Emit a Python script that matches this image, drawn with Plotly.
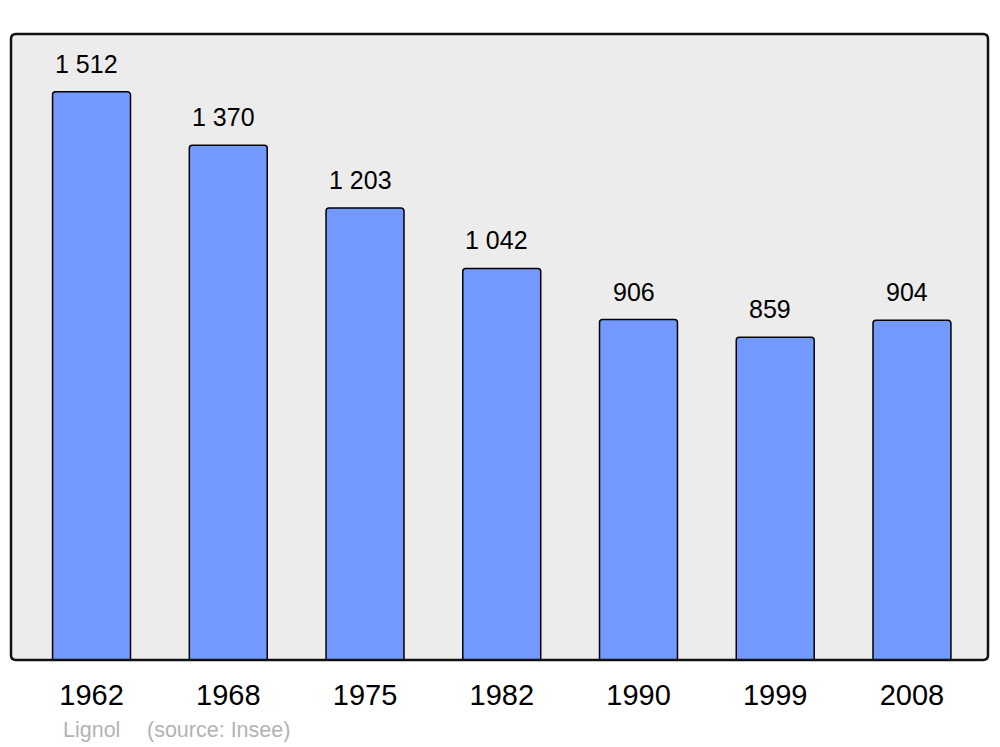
import plotly.graph_objects as go

years = ["1962", "1968", "1975", "1982", "1990", "1999", "2008"]
population = [1512, 1370, 1203, 1042, 906, 859, 904]
value_labels = ["1 512", "1 370", "1 203", "1 042", "906", "859", "904"]

W, H = 1000, 747
# plot area in pixels: x 11..988, y 34..660
ML, MR, MT, MB = 11, W - 988, 34, H - 660
pw, ph = W - ML - MR, H - MT - MB


def rounded_frame(r=5):
    rx, ry = r / pw, r / ph
    return (f"M {rx},0 L {1 - rx},0 Q 1,0 1,{ry} L 1,{1 - ry} Q 1,1 {1 - rx},1 "
            f"L {rx},1 Q 0,1 0,{1 - ry} L 0,{ry} Q 0,0 {rx},0 Z")


fig = go.Figure()
fig.add_trace(go.Bar(
    x=years,
    y=population,
    marker=dict(color="#7399ff", line=dict(color="#000000", width=1.5), cornerradius=3),
    hoverinfo="x+y",
))

# value labels above each bar (x given as category index), sitting a bit left of centre
for i, (v, lab) in enumerate(zip(population, value_labels)):
    fig.add_annotation(x=i, y=v, text=lab, showarrow=False, yanchor="bottom",
                       yshift=12, xshift=-5, font=dict(size=25, color="#000000"))

fig.add_shape(type="path", xref="paper", yref="paper", path=rounded_frame(),
              line=dict(color="#111111", width=2.5), layer="above")

# footer, positioned in pixels then converted to paper coords
footer = [("Lignol", 61), ("(source: Insee)", 145)]
for txt, px in footer:
    fig.add_annotation(x=(px - ML) / pw, y=(H - MB - 730) / ph,
                       xref="paper", yref="paper", text=txt, showarrow=False,
                       xanchor="left", yanchor="middle",
                       font=dict(size=21.5, color="#b3b3b3"))

fig.update_layout(
    width=W, height=H,
    margin=dict(l=ML, r=MR, t=MT, b=MB),
    paper_bgcolor="#ffffff",
    plot_bgcolor="#ececec",
    font=dict(family="Liberation Sans, Arial, sans-serif", color="#000000"),
    bargap=0.43,
    showlegend=False,
    xaxis=dict(type="category", range=[-0.589, 6.556], showgrid=False, zeroline=False,
               showline=False, ticks="", tickfont=dict(size=29), ticklabelstandoff=15),
    yaxis=dict(range=[0, 1666], showgrid=False, zeroline=False, showline=False,
               showticklabels=False, ticks=""),
)

# drop the browser's default body margin so the figure fills the window exactly
fig.write_html("out.html", config={"displayModeBar": False},
               post_script="document.body.style.margin='0';")
